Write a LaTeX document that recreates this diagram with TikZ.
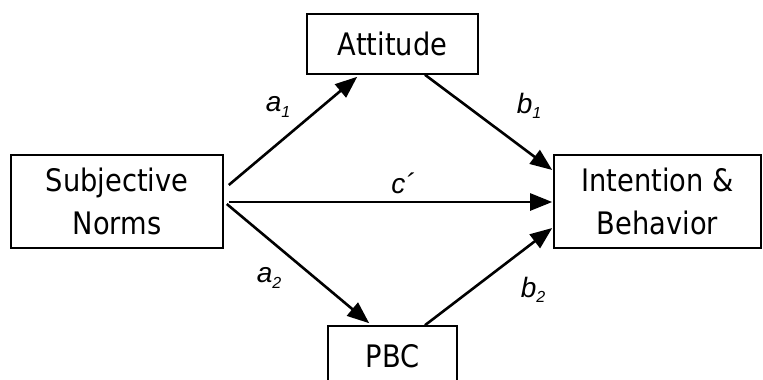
\documentclass[tikz,border=0pt]{standalone}
\usepackage{fontspec}
\setmainfont{DejaVu Sans}[FakeStretch=0.88]
\newfontfamily\labfont{Liberation Sans}
\usetikzlibrary{arrows.meta}
\newcommand\lblsub[2]{#1\raisebox{-0.35ex}{\fontsize{16}{16}\selectfont #2}}
\begin{document}
\begin{tikzpicture}[x=1pt,y=-1pt,
  box/.style={draw, line width=1.6pt, inner sep=0pt, align=center,
    font=\fontsize{31}{43}\selectfont},
  conn/.style={line width=2.6pt, -{Triangle[length=22pt,width=17pt]}},
  lab/.style={font=\labfont\itshape\fontsize{28}{28}\selectfont, inner sep=0pt}]
\useasboundingbox (0,0) rectangle (763,380);
\node[box, minimum width=212pt, minimum height=93pt] (sn) at (117,201.5) {Subjective\\Norms};
\node[box, minimum width=207pt, minimum height=93pt] (ib) at (657.5,201.5) {Intention \&\\Behavior};
\node[box, minimum width=171pt, minimum height=60pt] (att) at (392.5,44) {Attitude};
\node[box, minimum width=129pt, minimum height=60pt] (pbc) at (392.5,356) {PBC};
\draw[conn] ([xshift=5pt,yshift=16.5pt]sn.east) -- ([xshift=51pt,yshift=-2pt]att.south west);
\draw[conn] ([xshift=5pt,yshift=-0.5pt]sn.east) -- ([xshift=-1pt,yshift=-0.5pt]ib.west);
\draw[conn] ([xshift=32.5pt]att.south) -- ([xshift=-1pt,yshift=31.5pt]ib.west);
\draw[conn] ([xshift=3pt,yshift=-2.5pt]sn.east) -- ([xshift=42pt,yshift=2pt]pbc.north west);
\draw[conn] ([xshift=32.5pt]pbc.north) -- ([xshift=-1pt,yshift=-26.5pt]ib.west);
\node[lab] (la1) at (278,107) {\lblsub{a}{1}};
\node[lab] (lc) at (403,183) {c´};
\node[lab] (lb1) at (529,106) {\lblsub{b}{1}};
\node[lab] (la2) at (269,278) {\lblsub{a}{2}};
\node[lab] (lb2) at (533,290) {\lblsub{b}{2}};
\end{tikzpicture}
\end{document}
